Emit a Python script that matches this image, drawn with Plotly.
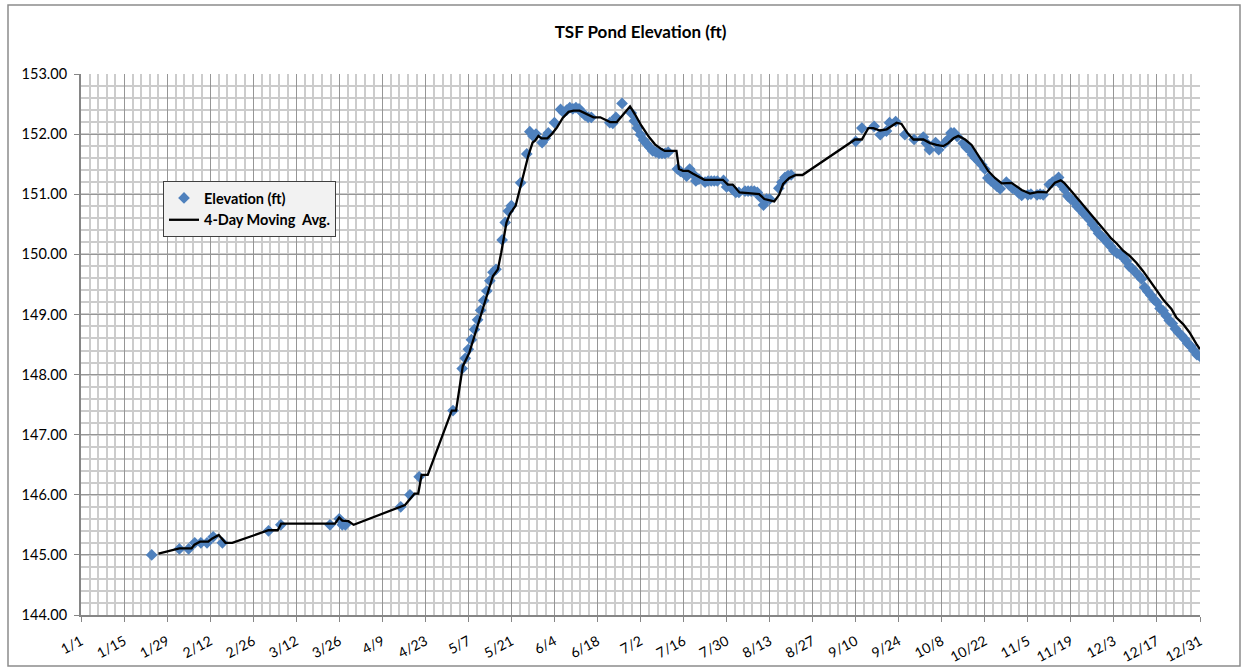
import pandas as pd
import plotly.graph_objects as go

YEAR = 2011

# ---- data ----
elev_dates = [
    "1/24", "2/2", "2/5", "2/7", "2/9", "2/11", "2/13", "2/16", "3/3", "3/7",
    "3/23", "3/26", "3/27", "3/28", "4/15", "4/18", "4/21", "5/2", "5/5", "5/6",
    "5/7", "5/8", "5/9", "5/10", "5/11", "5/12", "5/13", "5/14", "5/15", "5/16",
    "5/18", "5/19", "5/20", "5/21", "5/24", "5/26", "5/27", "5/28", "5/29", "5/31",
    "6/1", "6/2", "6/4", "6/6", "6/7", "6/8", "6/9", "6/10", "6/11", "6/12",
    "6/13", "6/14", "6/15", "6/16", "6/22", "6/23", "6/24", "6/26", "6/29", "6/30",
    "7/1", "7/2", "7/3", "7/4", "7/5", "7/6", "7/7", "7/8", "7/9", "7/10",
    "7/11", "7/14", "7/15", "7/17", "7/18", "7/19", "7/20", "7/21", "7/23", "7/24",
    "7/25", "7/26", "7/27", "7/29", "7/30", "8/1", "8/2", "8/3", "8/5", "8/6",
    "8/7", "8/8", "8/9", "8/10", "8/11", "8/12", "8/13", "8/16", "8/17", "8/18",
    "8/19", "8/20", "9/10", "9/12", "9/16", "9/18", "9/20", "9/21", "9/23", "9/26",
    "9/29", "10/2", "10/3", "10/4", "10/6", "10/7", "10/9", "10/10", "10/11", "10/12",
    "10/13", "10/15", "10/16", "10/17", "10/18", "10/19", "10/20", "10/21", "10/22", "10/23",
    "10/24", "10/25", "10/26", "10/27", "10/29", "10/30", "10/31", "11/2", "11/3", "11/5",
    "11/6", "11/8", "11/9", "11/10", "11/12", "11/13", "11/14", "11/15", "11/16", "11/17",
    "11/18", "11/19", "11/20", "11/21", "11/22", "11/23", "11/24", "11/25", "11/26", "11/27",
    "11/28", "11/29", "11/30", "12/1", "12/2", "12/3", "12/4", "12/5", "12/6", "12/7",
    "12/8", "12/9", "12/10", "12/11", "12/12", "12/13", "12/14", "12/15", "12/16", "12/17",
    "12/18", "12/19", "12/20", "12/21", "12/22", "12/23", "12/24", "12/25", "12/26", "12/27",
    "12/28", "12/29", "12/30", "12/31",
]
elev_vals = [
    145.00, 145.10, 145.10, 145.20, 145.20, 145.20, 145.30, 145.20, 145.40, 145.50,
    145.50, 145.60, 145.50, 145.50, 145.80, 146.00, 146.30, 147.40, 148.10, 148.27,
    148.42, 148.58, 148.75, 148.91, 149.07, 149.23, 149.39, 149.56, 149.70, 149.75,
    150.24, 150.53, 150.72, 150.81, 151.19, 151.67, 152.04, 151.97, 152.00, 151.86,
    151.93, 152.02, 152.19, 152.41, 152.36, 152.40, 152.44, 152.42, 152.44, 152.42,
    152.36, 152.31, 152.28, 152.28, 152.19, 152.18, 152.28, 152.51, 152.35, 152.22,
    152.10, 151.99, 151.90, 151.84, 151.78, 151.72, 151.70, 151.68, 151.68, 151.68,
    151.70, 151.42, 151.38, 151.30, 151.42, 151.34, 151.22, 151.25, 151.20, 151.22,
    151.22, 151.22, 151.22, 151.23, 151.12, 151.08, 151.03, 151.03, 151.05, 151.05,
    151.05, 151.05, 151.03, 150.95, 150.82, 150.92, 150.92, 151.10, 151.20, 151.28,
    151.31, 151.32, 151.88, 152.10, 152.13, 151.99, 152.05, 152.19, 152.21, 151.99,
    151.91, 151.95, 151.85, 151.74, 151.86, 151.74, 151.85, 151.91, 152.02, 152.02,
    151.96, 151.85, 151.78, 151.74, 151.66, 151.60, 151.55, 151.49, 151.42, 151.27,
    151.22, 151.18, 151.13, 151.09, 151.20, 151.15, 151.10, 151.02, 150.98, 150.99,
    151.00, 150.99, 151.00, 150.99, 151.16, 151.20, 151.23, 151.28, 151.15, 151.08,
    150.97, 150.92, 150.88, 150.80, 150.75, 150.69, 150.64, 150.58, 150.50, 150.43,
    150.35, 150.30, 150.25, 150.19, 150.13, 150.06, 150.02, 150.00, 149.95, 149.89,
    149.80, 149.76, 149.70, 149.65, 149.59, 149.45, 149.38, 149.32, 149.25, 149.20,
    149.10, 149.06, 148.98, 148.90, 148.85, 148.76, 148.70, 148.65, 148.59, 148.52,
    148.47, 148.40, 148.33, 148.30,
]

# 4-day moving average line, read as (day of year, value)
avg_day = [
    25.2, 32.0, 36.0, 36.9, 38.7, 41.4, 42.6, 44.8, 47.0, 49.2,
    61.0, 64.0, 65.1, 82.6, 84.0, 85.0, 87.0, 88.7, 105.4, 108.5,
    109.7, 110.8, 112.8, 120.6, 122.0, 124.2, 126.3, 134.0, 135.6, 136.7,
    138.4, 139.5, 141.4, 143.3, 145.5, 146.9, 147.7, 148.8, 149.8, 151.7,
    153.1, 154.8, 156.7, 158.6, 160.2, 162.2, 164.5, 166.7, 168.9, 172.1,
    174.3, 178.6, 180.2, 182.3, 184.5, 186.7, 188.8, 189.9, 193.7, 194.5,
    195.8, 197.5, 199.1, 201.2, 202.8, 208.8, 210.4, 212.0, 213.1, 214.2,
    220.6, 222.3, 225.5, 227.1, 228.4, 230.4, 232.5, 234.7, 251.8, 254.0,
    256.1, 257.7, 259.9, 262.1, 265.3, 266.9, 268.8, 270.8, 274.0, 276.2,
    278.3, 280.5, 282.1, 283.8, 285.4, 287.6, 289.7, 291.4, 293.5, 295.2,
    297.3, 299.5, 302.7, 306.0, 308.7, 311.4, 314.1, 316.8, 318.7, 319.8,
    322.2, 324.9, 327.6, 330.4, 333.1, 335.2, 336.9, 339.0, 341.2, 343.3,
    345.5, 347.7, 349.8, 352.0, 354.7, 356.3, 358.5, 360.6, 362.8, 364.0,
]
avg_val = [
    145.02, 145.11, 145.11, 145.17, 145.22, 145.22, 145.27, 145.33, 145.20, 145.20,
    145.41, 145.41, 145.52, 145.52, 145.62, 145.57, 145.56, 145.50, 145.83, 146.02,
    146.02, 146.33, 146.33, 147.40, 147.40, 148.14, 148.36, 149.64, 149.75, 150.03,
    150.53, 150.67, 150.81, 151.19, 151.64, 151.86, 151.89, 151.97, 151.93, 151.93,
    152.00, 152.11, 152.27, 152.37, 152.39, 152.39, 152.33, 152.28, 152.28, 152.20,
    152.20, 152.46, 152.33, 152.14, 151.97, 151.83, 151.75, 151.72, 151.72, 151.42,
    151.39, 151.39, 151.34, 151.28, 151.24, 151.24, 151.16, 151.16, 151.09, 151.03,
    151.00, 150.92, 150.88, 150.99, 151.17, 151.27, 151.32, 151.32, 151.91, 151.91,
    152.10, 152.10, 152.06, 152.08, 152.19, 152.17, 152.02, 151.91, 151.91, 151.85,
    151.82, 151.80, 151.85, 151.93, 151.97, 151.91, 151.82, 151.69, 151.52, 151.38,
    151.27, 151.18, 151.19, 151.07, 151.01, 151.04, 151.03, 151.19, 151.23, 151.19,
    151.05, 150.88, 150.72, 150.55, 150.39, 150.26, 150.18, 150.06, 149.97, 149.86,
    149.72, 149.56, 149.42, 149.25, 149.09, 148.95, 148.84, 148.70, 148.51, 148.42,
]

y_ticks = [144, 145, 146, 147, 148, 149, 150, 151, 152, 153]

# ---- build ----
elev_x = pd.to_datetime([f"{YEAR}/{d}" for d in elev_dates], format="%Y/%m/%d")
start = pd.Timestamp(f"{YEAR}-01-01")
end = pd.Timestamp(f"{YEAR}-12-31")
avg_x = start + pd.to_timedelta(avg_day, unit="D")

DAY_MS = 86400000
FONT = "Lato, 'Open Sans', sans-serif"

fig = go.Figure()
fig.add_trace(go.Scatter(
    x=elev_x, y=elev_vals, mode="markers", name="Elevation (ft)",
    marker=dict(symbol="diamond", size=9, color="#4F81BD"),
))
fig.add_trace(go.Scatter(
    x=avg_x, y=avg_val, mode="lines", name="4-Day Moving  Avg.",
    line=dict(color="#000000", width=2.3),
))

fig.update_layout(
    width=1248, height=671,
    margin=dict(l=81, r=48, t=74, b=56, pad=0),
    paper_bgcolor="white", plot_bgcolor="white",
    font=dict(family=FONT, color="#000000"),
    title=dict(text="<b>TSF Pond Elevation (ft)</b>", x=(81 + 1119 / 2) / 1248,
               xanchor="center", y=1 - 32 / 671, yanchor="middle",
               font=dict(size=17, family=FONT, color="#000000")),
    showlegend=True,
    legend=dict(x=(163 - 81) / 1119, y=(615 - 181) / 541, xanchor="left", yanchor="top",
                bgcolor="#F2F2F2", bordercolor="#404040", borderwidth=1,
                font=dict(size=14.5, family=FONT, color="#000000", weight="bold"),
                itemwidth=30, tracegroupgap=6),
    shapes=[dict(type="rect", xref="paper", yref="paper",
                 x0=(8 - 81) / 1119, x1=(1240 - 81) / 1119,
                 y0=(615 - 666) / 541, y1=(615 - 5) / 541,
                 line=dict(color="#8C8C8C", width=1.5), fillcolor="rgba(0,0,0,0)",
                 layer="below")],
)

fig.update_xaxes(
    type="date", range=[start, end], automargin=False,
    tick0=start, dtick=14 * DAY_MS, tickformat="%-m/%-d", tickangle=-28,
    tickfont=dict(size=14, family=FONT, color="#000000"),
    ticklabelstandoff=6,
    showgrid=True, gridcolor="#969696", gridwidth=1,
    showline=True, linecolor="#868686", linewidth=2,
    ticks="outside", ticklen=5, tickcolor="#868686",
    minor=dict(tick0=start, dtick=14 * DAY_MS / 5, showgrid=True,
               gridcolor="#CCCCCC", gridwidth=1.5, ticks=""),
    zeroline=False,
)
fig.update_yaxes(
    range=[144, 153], tickvals=y_ticks, tickformat=".2f", automargin=False,
    tickfont=dict(size=14.5, family=FONT, color="#000000"),
    ticklabelstandoff=4,
    showgrid=True, gridcolor="#969696", gridwidth=1,
    showline=True, linecolor="#868686", linewidth=2,
    ticks="outside", ticklen=5, tickcolor="#868686",
    minor=dict(dtick=0.2, tick0=144, showgrid=True, gridcolor="#CCCCCC",
               gridwidth=1.5, ticks=""),
    zeroline=False,
)

fig.write_html("out.html", config={"displayModeBar": False},
               post_script="document.body.style.margin='0px';document.body.style.overflow='hidden';")
